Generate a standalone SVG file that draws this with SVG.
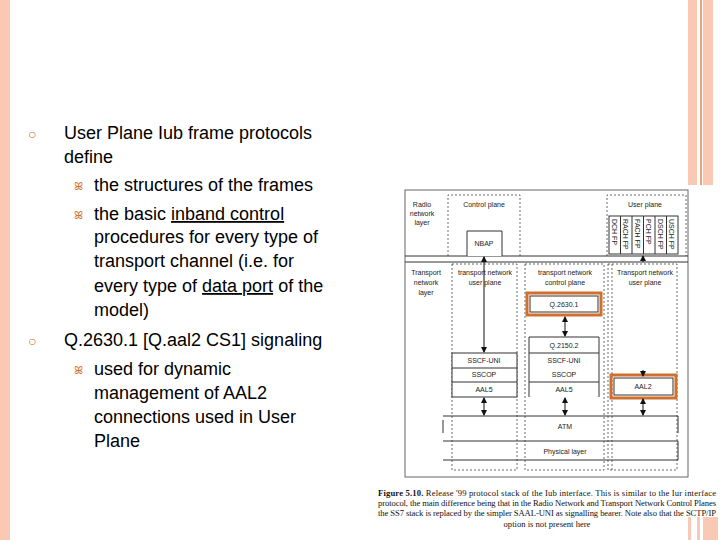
<svg xmlns="http://www.w3.org/2000/svg" width="720" height="540" viewBox="0 0 720 540">
<style>
.t{font-family:"Liberation Sans",Arial,sans-serif;font-size:18px;fill:#000}
.s{font-family:"Liberation Sans",Arial,sans-serif;font-size:7px;fill:#222;text-anchor:middle}
.r{font-family:"Liberation Sans",Arial,sans-serif;font-size:7px;fill:#222;text-anchor:start}
.c{font-family:"Liberation Serif","Times New Roman",serif;font-size:8.6px;fill:#111}
.d{fill:none;stroke:#444;stroke-width:0.8;stroke-dasharray:2,2}
.b{fill:#fff;stroke:#333;stroke-width:1}
.l{stroke:#333;stroke-width:1;fill:none}
.o{fill:none;stroke:#d0702e;stroke-width:3}
.p{fill:#f9c9b4}
</style>
<defs>
<marker id="ah" markerWidth="6" markerHeight="6" refX="5" refY="3" orient="auto-start-reverse" markerUnits="userSpaceOnUse"><path d="M0,0 L6,3 L0,6 z" fill="#111"/></marker>
</defs>
<rect width="720" height="540" fill="#fff"/>
<rect class="p" x="0" y="0" width="10" height="540"/>
<rect class="p" x="688" y="0" width="9" height="185"/>
<rect x="700" y="0" width="2" height="185" fill="#f0a07a"/>
<rect class="p" x="703" y="0" width="10" height="185"/>
<rect class="p" x="688" y="517" width="3" height="23"/>
<rect class="p" x="697" y="517" width="3" height="23"/>
<rect class="p" x="703" y="517" width="15" height="23"/>

<g id="text">
<text x="28" y="139" font-family="Liberation Sans,sans-serif" font-size="14" fill="#d0702e">○</text>
<text class="t" x="64" y="139">User Plane Iub frame protocols</text>
<text class="t" x="64" y="163">define</text>
<text x="74" y="190" font-family="DejaVu Sans,sans-serif" font-size="11" fill="#d0702e">ꕤ</text>
<text class="t" x="94" y="191">the structures of the frames</text>
<text x="74" y="219" font-family="DejaVu Sans,sans-serif" font-size="11" fill="#d0702e">ꕤ</text>
<text class="t" x="94" y="220">the basic <tspan text-decoration="underline">inband control</tspan></text>
<text class="t" x="94" y="243">procedures for every type of</text>
<text class="t" x="94" y="267">transport channel (i.e. for</text>
<text class="t" x="94" y="292">every type of <tspan text-decoration="underline">data port</tspan> of the</text>
<text class="t" x="94" y="316">model)</text>
<text x="28" y="346" font-family="Liberation Sans,sans-serif" font-size="14" fill="#d0702e">○</text>
<text class="t" x="64" y="346">Q.2630.1 [Q.aal2 CS1] signaling</text>
<text x="74" y="374" font-family="DejaVu Sans,sans-serif" font-size="11" fill="#d0702e">ꕤ</text>
<text class="t" x="94" y="375">used for dynamic</text>
<text class="t" x="94" y="399">management of AAL2</text>
<text class="t" x="94" y="423">connections used in User</text>
<text class="t" x="94" y="447">Plane</text>
</g>

<g id="figure">
<rect x="405" y="190" width="283" height="287" fill="#fff" stroke="#666" stroke-width="1"/>
<line class="l" x1="405" y1="256" x2="688" y2="256" stroke="#999"/>
<line class="l" x1="405" y1="262" x2="688" y2="262" stroke="#999"/>
<path class="d" d="M448,256 V195 H520 V256"/>
<path class="d" d="M607,256 V195 H686 V256"/>
<text class="s" x="422" y="207">Radio</text><text class="s" x="422" y="216">network</text><text class="s" x="422" y="225">layer</text>
<text class="s" x="484" y="207">Control plane</text>
<text class="s" x="645" y="207">User plane</text>
<g id="nbap"><path class="b" d="M467,256 V231 H502 V256"/><text class="s" x="484" y="246">NBAP</text></g>
<g id="fp">
<rect class="b" x="609" y="216" width="69" height="38"/>
<g class="l"><line x1="620.5" y1="216" x2="620.5" y2="254"/><line x1="632" y1="216" x2="632" y2="254"/><line x1="643.5" y1="216" x2="643.5" y2="254"/><line x1="655" y1="216" x2="655" y2="254"/><line x1="666.5" y1="216" x2="666.5" y2="254"/></g>
<text class="r" transform="translate(611.5,219) rotate(90)">DCH FP</text>
<text class="r" transform="translate(623,219) rotate(90)">RACH FP</text>
<text class="r" transform="translate(634.5,219) rotate(90)">FACH FP</text>
<text class="r" transform="translate(646,219) rotate(90)">PCH FP</text>
<text class="r" transform="translate(657.5,219) rotate(90)">DSCH FP</text>
<text class="r" transform="translate(669,219) rotate(90)">USCH FP</text>
</g>
<text class="s" x="426" y="275">Transport</text><text class="s" x="426" y="285">network</text><text class="s" x="426" y="295">layer</text>
<rect class="d" x="452" y="264" width="65" height="206"/>
<text class="s" x="485" y="275">transport network</text><text class="s" x="485" y="285">user plane</text>
<rect class="d" x="525" y="264" width="79" height="206"/>
<text class="s" x="565" y="275">transport network</text><text class="s" x="565" y="285">control plane</text>
<rect class="d" x="608" y="264" width="69" height="206"/>
<line class="d" x1="612" y1="264" x2="612" y2="470"/>
<text class="s" x="645" y="275">Transport network</text><text class="s" x="645" y="285">user plane</text>
<g id="q2630"><rect class="b" x="530" y="296" width="68" height="16"/><text class="s" x="564" y="307">Q.2630.1</text><rect class="o" x="527" y="293" width="74" height="22"/></g>
<g id="cstack"><path class="b" d="M529,397 V337 H599 V397"/><line class="l" x1="529" y1="353" x2="599" y2="353"/><line class="l" x1="529" y1="382" x2="599" y2="382" stroke-width="0.6"/>
<text class="s" x="564" y="348">Q.2150.2</text><text class="s" x="564" y="363">SSCF-UNI</text><text class="s" x="564" y="377">SSCOP</text><text class="s" x="564" y="392">AAL5</text></g>
<g id="ustack"><rect class="b" x="452" y="353" width="65" height="44"/><line class="l" x1="452" y1="368" x2="517" y2="368"/><line class="l" x1="452" y1="382" x2="517" y2="382"/>
<text class="s" x="484" y="363">SSCF-UNI</text><text class="s" x="484" y="377">SSCOP</text><text class="s" x="484" y="392">AAL5</text></g>
<g id="aal2"><rect class="b" x="614" y="378" width="59" height="17"/><text class="s" x="643" y="389">AAL2</text><rect class="o" x="611" y="375" width="65" height="23"/></g>
<g id="lower"><line class="l" x1="443" y1="416" x2="678" y2="416" stroke="#888"/><line class="l" x1="443" y1="420" x2="443" y2="433"/><line class="l" x1="678" y1="416" x2="678" y2="433" stroke="#888"/>
<text class="s" x="565" y="429">ATM</text>
<line class="l" x1="443" y1="441" x2="678" y2="441" stroke="#888"/><line class="l" x1="678" y1="441" x2="678" y2="460" stroke="#888"/>
<text class="s" x="565" y="454">Physical layer</text>
<line class="l" x1="443" y1="460" x2="678" y2="460"/></g>
<g id="connectors" stroke="#111" stroke-width="1">
<line x1="484" y1="262" x2="484" y2="352" marker-end="url(#ah)"/>
<line x1="484" y1="258" x2="484" y2="257" marker-end="url(#ah)"/>
<line x1="643" y1="262" x2="643" y2="256" marker-end="url(#ah)"/>
<line x1="565" y1="317" x2="565" y2="336" marker-start="url(#ah)" marker-end="url(#ah)"/>
<line x1="643" y1="370" x2="643" y2="376" marker-end="url(#ah)"/>
<line x1="484" y1="398" x2="484" y2="415" marker-start="url(#ah)" marker-end="url(#ah)"/>
<line x1="565" y1="398" x2="565" y2="415" marker-start="url(#ah)" marker-end="url(#ah)"/>
<line x1="643" y1="399" x2="643" y2="415" marker-start="url(#ah)" marker-end="url(#ah)"/>
</g>
<text class="c" x="378" y="496" textLength="338" lengthAdjust="spacing"><tspan font-weight="bold">Figure 5.10.</tspan> Release '99 protocol stack of the Iub interface. This is similar to the Iur interface</text>
<text class="c" x="378" y="506" textLength="338" lengthAdjust="spacing">protocol, the main difference being that in the Radio Network and Transport Network Control Planes</text>
<text class="c" x="378" y="516" textLength="338" lengthAdjust="spacing">the SS7 stack is replaced by the simpler SAAL-UNI as signalling bearer. Note also that the SCTP/IP</text>
<text class="c" x="547" y="527" text-anchor="middle">option is not present here</text>
</g>
</svg>
